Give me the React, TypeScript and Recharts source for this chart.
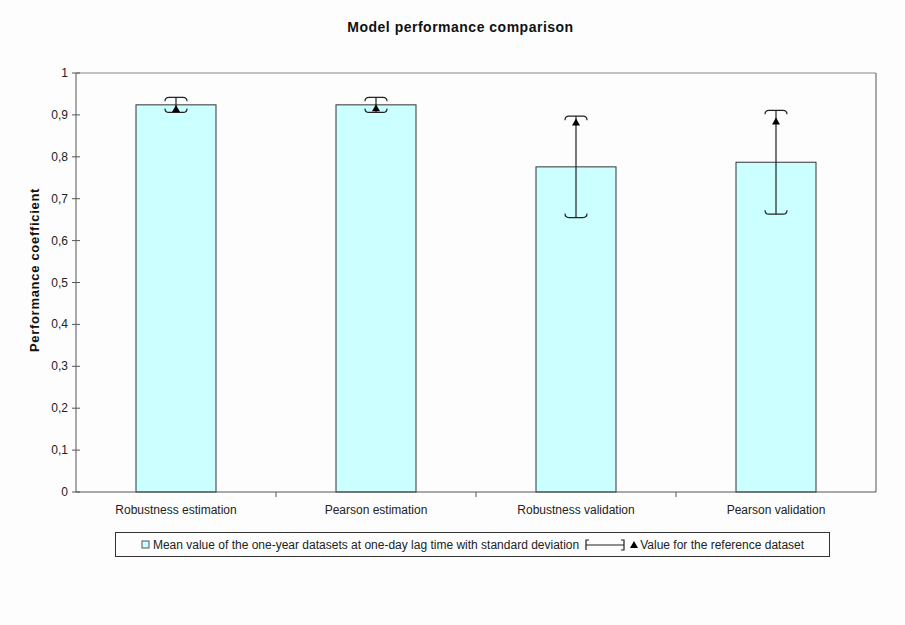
import * as React from "react";
import { Bar, ComposedChart, ReferenceLine, XAxis, YAxis } from "recharts";

const categories = [
  "Robustness estimation",
  "Pearson estimation",
  "Robustness validation",
  "Pearson validation",
];
const meanValues = [0.924, 0.924, 0.776, 0.787];
const stdDevs = [0.018, 0.018, 0.121, 0.124];
const referenceValues = [0.914, 0.916, 0.882, 0.884];
const yTicks = [0, 0.1, 0.2, 0.3, 0.4, 0.5, 0.6, 0.7, 0.8, 0.9, 1];

const FONT = '"Liberation Sans", Arial, sans-serif';
const BAR_FILL = "#ccffff";

const data = categories.map((name, i) => ({
  name,
  mean: meanValues[i],
  sd: stdDevs[i],
  ref: referenceValues[i],
}));

const fmt = (v: number) => (v === 0 || v === 1 ? String(v) : v.toFixed(1).replace(".", ","));

function renderLeftTick(p: any) {
  const { x, y, payload } = p;
  return (
    <g key={`l-${payload.value}`}>
      <line x1={x - 4} x2={x + 4} y1={y} y2={y} stroke="#555" />
      <text x={x - 8} y={y} dy={4} textAnchor="end" fontSize={12} fontFamily={FONT} fill="#222">
        {fmt(payload.value)}
      </text>
    </g>
  );
}

function renderRightTick(p: any) {
  const { x, y, payload } = p;
  return (
    <g key={`r-${payload.value}`}>
      <line x1={x - 4} x2={x + 4} y1={y} y2={y} stroke="#555" />
      <text x={x + 8} y={y} dy={4} textAnchor="start" fontSize={12} fontFamily={FONT} fill="#222">
        {fmt(payload.value)}
      </text>
    </g>
  );
}

function renderCategoryTick(p: any) {
  const { x, y, payload, index } = p;
  const half = payload.offset || 100;
  return (
    <g key={`c-${index}`}>
      {index > 0 && <line x1={x - half} x2={x - half} y1={y} y2={y + 5} stroke="#555" />}
      <text x={x} y={y + 22} textAnchor="middle" fontSize={12} fontFamily={FONT} fill="#222">
        {payload.value}
      </text>
    </g>
  );
}

// bar + bracket-style error bar + reference triangle, positioned from the bar's scaled height
function renderBar(p: any) {
  const { x, y, width, height, payload, index } = p;
  const perUnit = height / payload.mean;
  const cx = x + width / 2;
  const yHi = y - payload.sd * perUnit;
  const yLo = y + payload.sd * perUnit;
  const yRef = y + height - payload.ref * perUnit;
  return (
    <g key={`b-${index}`}>
      <rect x={x} y={y} width={width} height={height} fill={BAR_FILL} stroke="#333" />
      <line x1={cx} x2={cx} y1={yHi} y2={yLo} stroke="#222" strokeWidth={1.2} />
      <path
        d={`M${cx - 11},${yHi + 4} Q${cx - 11},${yHi} ${cx - 7},${yHi} L${cx + 7},${yHi} Q${cx + 11},${yHi} ${cx + 11},${yHi + 4}`}
        fill="none"
        stroke="#222"
        strokeWidth={1.2}
      />
      <path
        d={`M${cx - 11},${yLo - 4} Q${cx - 11},${yLo} ${cx - 7},${yLo} L${cx + 7},${yLo} Q${cx + 11},${yLo} ${cx + 11},${yLo - 4}`}
        fill="none"
        stroke="#222"
        strokeWidth={1.2}
      />
      <path d={`M${cx},${yRef - 4} L${cx + 4},${yRef + 3} L${cx - 4},${yRef + 3} Z`} fill="#000" />
    </g>
  );
}

export default function App() {
  return (
    <div
      style={{
        position: "absolute",
        top: 0,
        left: 0,
        width: 905,
        height: 625,
        background: "#fdfdfd",
        fontFamily: FONT,
      }}
    >
      <div
        style={{
          position: "absolute",
          top: 19,
          left: 0,
          width: 921,
          textAlign: "center",
          fontSize: 14,
          fontWeight: "bold",
          letterSpacing: 0.5,
          color: "#111",
        }}
      >
        Model performance comparison
      </div>

      <div
        style={{
          position: "absolute",
          left: 35 - 100,
          top: 270 - 8,
          width: 200,
          textAlign: "center",
          transform: "rotate(-90deg)",
          fontSize: 13,
          fontWeight: "bold",
          letterSpacing: 0.7,
          color: "#111",
          lineHeight: "16px",
        }}
      >
        Performance coefficient
      </div>

      <ComposedChart
        width={905}
        height={625}
        data={data}
        margin={{ top: 73, right: 0, bottom: 103, left: 0 }}
        barCategoryGap="30%"
      >
        <XAxis
          dataKey="name"
          interval={0}
          height={30}
          tickSize={0}
          tickMargin={0}
          tickLine={false}
          axisLine={{ stroke: "#555" }}
          tick={renderCategoryTick}
        />
        <YAxis
          yAxisId="left"
          domain={[0, 1]}
          ticks={yTicks}
          width={76}
          tickSize={0}
          tickMargin={0}
          tickLine={false}
          axisLine={{ stroke: "#555" }}
          tick={renderLeftTick}
        />
        <YAxis
          yAxisId="right"
          orientation="right"
          domain={[0, 1]}
          ticks={yTicks}
          width={29}
          tickSize={0}
          tickMargin={0}
          tickLine={false}
          axisLine={{ stroke: "#555" }}
          tick={renderRightTick}
        />
        <ReferenceLine yAxisId="left" y={1} stroke="#888" />
        <Bar yAxisId="left" dataKey="mean" shape={renderBar} isAnimationActive={false} />
      </ComposedChart>

      <div
        style={{
          position: "absolute",
          left: 115,
          top: 532,
          width: 713,
          height: 23,
          border: "1px solid #333",
          display: "flex",
          alignItems: "center",
          justifyContent: "center",
          fontSize: 12,
          color: "#222",
          whiteSpace: "nowrap",
        }}
      >
        <svg width={10} height={9} style={{ marginRight: 2 }}>
          <rect x={1} y={1} width={7} height={7} fill={BAR_FILL} stroke="#555" />
        </svg>
        <span>Mean value of the one-year datasets at one-day lag time with standard deviation</span>
        <svg width={42} height={12} style={{ marginLeft: 5, marginRight: 4 }}>
          <path d="M5,1 L2,1 L2,11 M2,6 L40,6 M37,1 L40,1 L40,11 L37,11" fill="none" stroke="#222" strokeWidth={1.2} />
        </svg>
        <svg width={8} height={8} style={{ marginRight: 2 }}>
          <path d="M4,0 L8,7 L0,7 Z" fill="#000" />
        </svg>
        <span>Value for the reference dataset</span>
      </div>
    </div>
  );
}
